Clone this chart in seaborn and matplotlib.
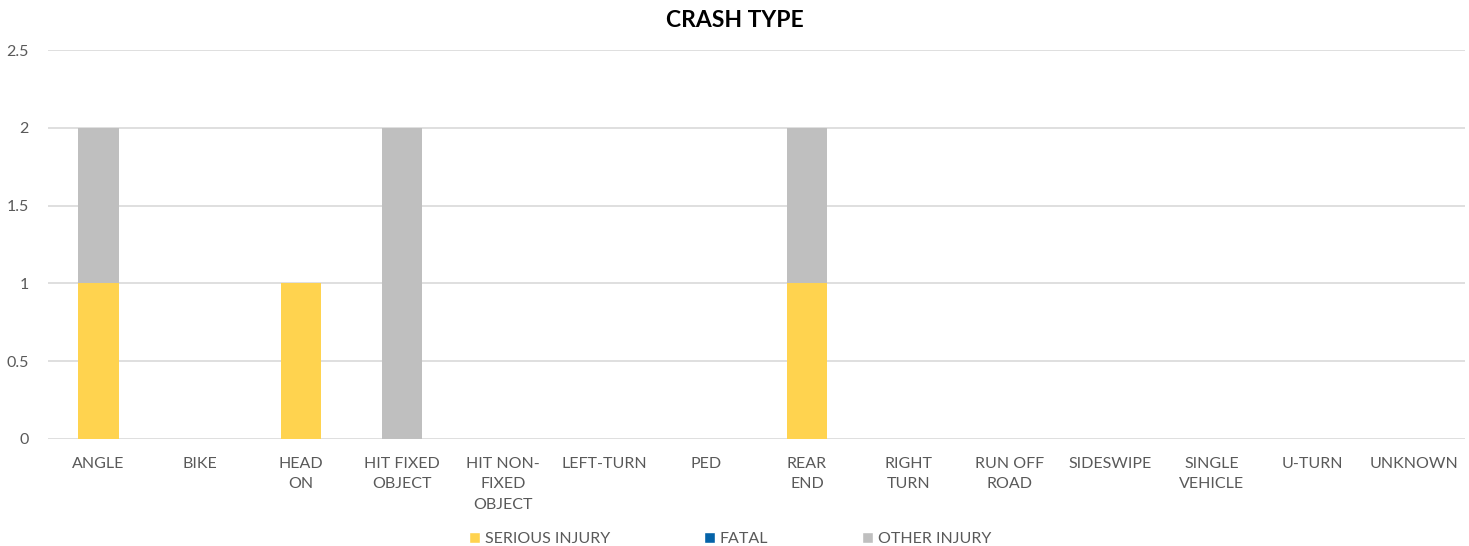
import matplotlib
matplotlib.use("Agg")
import matplotlib.pyplot as plt
from matplotlib.patches import Patch
import seaborn as sns
import numpy as np

# --- Data ---
categories = ["ANGLE", "BIKE", "HEAD\nON", "HIT FIXED\nOBJECT", "HIT NON-\nFIXED\nOBJECT",
              "LEFT-TURN", "PED", "REAR\nEND", "RIGHT\nTURN", "RUN OFF\nROAD",
              "SIDESWIPE", "SINGLE\nVEHICLE", "U-TURN", "UNKNOWN"]
serious = [1, 0, 1, 0, 0, 0, 0, 1, 0, 0, 0, 0, 0, 0]
fatal = [0, 0, 0, 0, 0, 0, 0, 0, 0, 0, 0, 0, 0, 0]
other = [1, 0, 0, 2, 0, 0, 0, 1, 0, 0, 0, 0, 0, 0]
series_names = ["SERIOUS INJURY", "FATAL", "OTHER INJURY"]
colors = ["#FFD34F", "#0563A8", "#BFBFBF"]

sns.set_style("white")
plt.rcParams['font.family'] = ['Lato', 'DejaVu Sans']

fig = plt.figure(figsize=(14.69, 5.46), dpi=100)
ax = fig.add_axes([0.0327, 0.196, 0.9643, 0.712])

bottom = np.zeros(len(categories))
for name, vals, c in zip(series_names, [serious, fatal, other], colors):
    sns.barplot(x=categories, y=vals, bottom=bottom, color=c, width=0.4,
                ax=ax, saturation=1, linewidth=0, errorbar=None)
    bottom = bottom + np.array(vals)

ax.set_ylim(0, 2.5)
ax.set_yticks([0, 0.5, 1, 1.5, 2, 2.5])
ax.set_yticklabels(["0", "0.5", "1", "1.5", "2", "2.5"])
ax.yaxis.grid(True, color="#D9D9D9", linewidth=1.2)
ax.set_axisbelow(True)
for s in ax.spines.values():
    s.set_visible(False)
ax.tick_params(axis="both", length=0, colors="#595959", labelsize=11.5)
ax.tick_params(axis="x", pad=13)
ax.tick_params(axis="y", pad=14)
for t in ax.get_xticklabels():
    t.set_linespacing(1.58)
    t.set_verticalalignment("top")

fig.suptitle("CRASH TYPE", y=0.982, fontsize=16.5, fontweight="bold", color="black")

handles = [Patch(facecolor=c, label=n) for n, c in zip(series_names, colors)]
leg = fig.legend(handles=handles, loc="lower center", ncol=3, bbox_to_anchor=(0.497, -0.027),
                 frameon=False, handlelength=0.7, handleheight=0.7, handletextpad=0.3,
                 columnspacing=5.85, fontsize=11.5)
for t in leg.get_texts():
    t.set_color("#595959")

fig.savefig("out.png", dpi=100)
